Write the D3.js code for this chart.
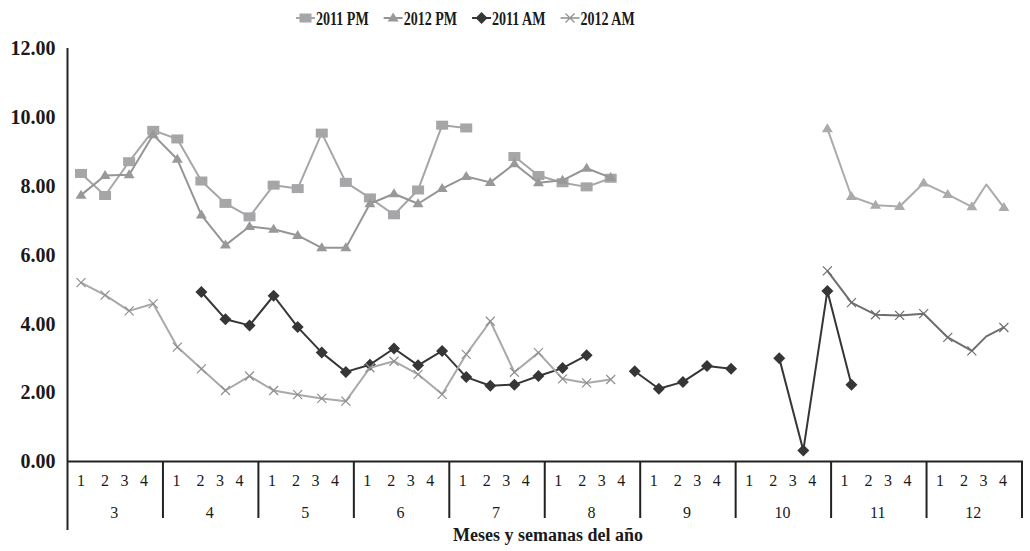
<!DOCTYPE html>
<html><head><meta charset="utf-8">
<script src="https://cdn.jsdelivr.net/npm/d3@7"></script>
<style>
body{margin:0;background:#fff}
svg{display:block}
text{font-family:"Liberation Serif","Times New Roman",serif;fill:#1a1a1a}
</style>
</head><body>
<svg id="c" width="1030" height="551"></svg>
<script>
// ---------- DATA ----------
const months = ["3","4","5","6","7","8","9","10","11","12"];
const weekLabels = ["1","2","3","4"];
const yTicks = [0,2,4,6,8,10,12];
const seriesNames = ["2011 PM","2012 PM","2011 AM","2012 AM"];
const xTitle = "Meses y semanas del año";

// values by week index (0 = month 3, week 1)
const pm2011 = [8.36,7.72,8.70,9.61,9.36,8.14,7.49,7.10,8.02,7.92,9.53,8.10,7.65,7.16,7.88,9.76,9.68,null,8.85,8.30,8.09,7.97,8.22];
const pm2012 = [7.73,8.30,8.32,9.48,8.77,7.15,6.28,6.82,6.74,6.56,6.20,6.20,7.48,7.77,7.48,7.92,8.27,8.10,8.64,8.09,8.16,8.51,8.24];
const am2011 = [null,null,null,null,null,4.92,4.13,3.95,4.81,3.90,3.16,2.60,2.81,3.28,2.79,3.21,2.45,2.20,2.23,2.48,2.71,3.08,null,2.62,2.11,2.31,2.77,2.69,null,3.00,0.32,4.95,2.23];
const am2012 = [5.19,4.83,4.37,4.58,3.32,2.69,2.06,2.48,2.06,1.94,1.83,1.75,2.72,2.91,2.53,1.95,3.11,4.07,2.59,3.16,2.40,2.28,2.38];
// late-season 2012 readings (week position)
const lateWeeks   = [31,32,33,34,35,36,37,37.6,38.33];
const pm2012Late  = [9.66,7.69,7.44,7.40,8.08,7.75,7.39,8.04,7.37];
const am2012Late  = [5.53,4.61,4.26,4.24,4.29,3.60,3.21,3.63,3.89];
const noMarkerWeeks = [37.6];

(function(){
// ---------- STYLE / LAYOUT ----------
const pLeft = 67.5, pRight = 1022, pTop = 48, pBottom = 461.5;
const styles = {
  "2011 PM":  {color:"#a6a6a9", mcolor:"#a6a6a9", marker:"square"},
  "2012 PM":  {color:"#959595", mcolor:"#999999", marker:"triangle"},
  "2011 AM":  {color:"#363636", mcolor:"#363636", marker:"diamond"},
  "2012 AM":  {color:"#a9a9a9", mcolor:"#8f8f8f", marker:"cross"},
  "2012 PM late": {color:"#ababab", mcolor:"#ababab", marker:"triangle"},
  "2012 AM late": {color:"#6e6e6e", mcolor:"#6e6e6e", marker:"cross"}
};
const weekOffsets = [13.5, 37.5, 57, 76.5];

const svg = d3.select("#c");
const x = d3.scaleLinear().domain([0, 39]).range([81, 1020]);
const y = d3.scaleLinear().domain([0, 12]).range([pBottom, pTop]);
const xm = d3.scaleBand().domain(months).range([pLeft, pRight]);

// ---------- AXES ----------
const yAxis = svg.append("g").attr("transform", `translate(${pLeft},0)`)
  .call(d3.axisLeft(y).tickValues(yTicks).tickFormat(d3.format(".2f")).tickSize(0).tickPadding(12));
yAxis.select(".domain").remove();
yAxis.selectAll("text").attr("font-family","Liberation Serif").attr("font-weight","bold")
  .attr("font-size","20px").style("fill","#1a1a1a");

const ax = svg.append("g").attr("stroke","#222").attr("fill","none");
ax.append("line").attr("x1",pLeft).attr("x2",pLeft).attr("y1",pTop).attr("y2",530).attr("stroke-width",2);
ax.append("line").attr("x1",pLeft).attr("x2",pRight+1).attr("y1",pBottom).attr("y2",pBottom).attr("stroke-width",2);
months.forEach(m => {
  const xr = xm(m) + xm.bandwidth();
  ax.append("line").attr("x1",xr).attr("x2",xr).attr("y1",pBottom).attr("y2",518).attr("stroke-width",2);
});

const lab = svg.append("g");
months.forEach(m => {
  weekLabels.forEach((w,j) => {
    lab.append("text").attr("x", xm(m) + weekOffsets[j]).attr("y", 486)
      .attr("text-anchor","middle").attr("font-size","16px").text(w);
  });
  lab.append("text").attr("x", xm(m) + xm.bandwidth()/2 - 1).attr("y", 518)
    .attr("text-anchor","middle").attr("font-size","16px").text(m);
});
svg.append("text").attr("x", 548).attr("y", 541).attr("text-anchor","middle")
  .attr("font-size","18px").attr("font-weight","bold").text(xTitle);

// ---------- MARKERS ----------
function marker(g, type, cx, cy, col) {
  if (type === "square") {
    g.append("rect").attr("x",cx-6).attr("y",cy-4.5).attr("width",12).attr("height",9).attr("fill",col);
  } else if (type === "triangle") {
    g.append("path").attr("d",`M${cx},${cy-5.5}L${cx+5.5},${cy+3.5}L${cx-5.5},${cy+3.5}Z`).attr("fill",col);
  } else if (type === "diamond") {
    g.append("path").attr("d",`M${cx},${cy-6}L${cx+6},${cy}L${cx},${cy+6}L${cx-6},${cy}Z`).attr("fill",col);
  } else if (type === "cross") {
    g.append("path").attr("d",`M${cx-4.5},${cy-4.5}L${cx+4.5},${cy+4.5}M${cx-4.5},${cy+4.5}L${cx+4.5},${cy-4.5}`)
      .attr("stroke",col).attr("stroke-width",1.2).attr("fill","none");
  }
}

// ---------- SERIES ----------
const segments = [
  {style:"2011 PM", weeks:d3.range(pm2011.length), values:pm2011},
  {style:"2012 PM", weeks:d3.range(pm2012.length), values:pm2012},
  {style:"2012 PM late", weeks:lateWeeks, values:pm2012Late},
  {style:"2011 AM", weeks:d3.range(am2011.length), values:am2011},
  {style:"2012 AM", weeks:d3.range(am2012.length), values:am2012},
  {style:"2012 AM late", weeks:lateWeeks, values:am2012Late}
];
const line = d3.line().defined(d => d.v != null).x(d => x(d.w)).y(d => y(d.v));
segments.forEach(s => {
  const st = styles[s.style];
  const pts = s.values.map((v,i) => ({w:s.weeks[i], v}));
  const g = svg.append("g");
  g.append("path").datum(pts).attr("d", line).attr("fill","none")
    .attr("stroke", st.color).attr("stroke-width", 2).attr("stroke-linejoin","round");
  pts.filter(d => d.v != null && !noMarkerWeeks.includes(d.w))
    .forEach(d => marker(g, st.marker, x(d.w), y(d.v), st.mcolor));
});

// ---------- LEGEND ----------
const leg = svg.append("g");
let lx = 296;
seriesNames.forEach(n => {
  const st = styles[n];
  leg.append("line").attr("x1",lx).attr("x2",lx+19).attr("y1",18).attr("y2",18)
    .attr("stroke",st.color).attr("stroke-width",2);
  marker(leg, st.marker, lx+9.5, 18, st.mcolor);
  const t = leg.append("text").attr("x",lx+20).attr("y",24.5).attr("font-size","18px")
    .attr("font-weight","bold").text(n);
  const w = t.node().getComputedTextLength() * 0.78;
  t.attr("textLength", w).attr("lengthAdjust","spacingAndGlyphs");
  lx += 20 + w + 15;
});
})();
</script>
</body></html>
